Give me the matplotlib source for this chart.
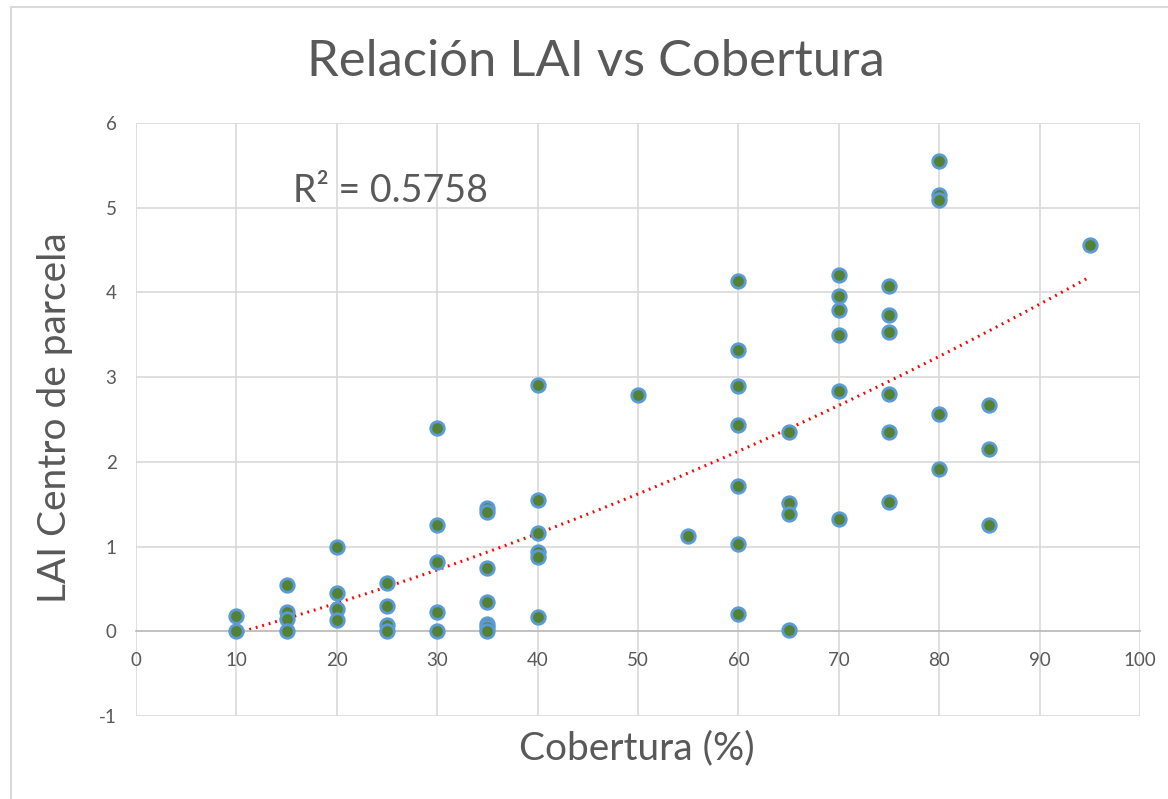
import numpy as np
import matplotlib
matplotlib.use('Agg')
import matplotlib.pyplot as plt
from matplotlib.patches import Rectangle

plt.rcParams['font.family'] = ['Lato', 'DejaVu Sans']
plt.rcParams['axes.unicode_minus'] = False

# cobertura (%) and LAI
cobertura = [10, 10,
             15, 15, 15, 15,
             20, 20, 20, 20,
             25, 25, 25, 25,
             30, 30, 30, 30, 30,
             35, 35, 35, 35, 35, 35, 35,
             40, 40, 40, 40, 40, 40,
             50, 55,
             60, 60, 60, 60, 60, 60, 60,
             65, 65, 65, 65,
             70, 70, 70, 70, 70, 70,
             75, 75, 75, 75, 75, 75,
             80, 80, 80, 80, 80,
             85, 85, 85,
             95]
lai = [0.18, 0.0,
       0.55, 0.23, 0.15, 0.0,
       1.0, 0.45, 0.26, 0.13,
       0.57, 0.30, 0.07, 0.0,
       2.40, 1.26, 0.82, 0.23, 0.0,
       1.46, 1.41, 0.75, 0.35, 0.09, 0.05, 0.0,
       2.91, 1.55, 1.16, 0.94, 0.88, 0.17,
       2.79, 1.12,
       4.13, 3.32, 2.90, 2.43, 1.71, 1.03, 0.20,
       2.35, 1.52, 1.39, 0.01,
       4.20, 3.96, 3.79, 3.50, 2.84, 1.33,
       4.08, 3.73, 3.53, 2.80, 2.35, 1.53,
       5.55, 5.15, 5.09, 2.56, 1.92,
       2.67, 2.15, 1.25,
       4.56]
r2_text = 'R² = 0.5758'

x = np.array(cobertura, dtype=float)
y = np.array(lai)

fig = plt.figure(figsize=(11.68, 7.99), dpi=100)
ax = fig.add_axes([136/1168, 1-716/799, (1140-136)/1168, (716-123)/799])

fig.patches.append(Rectangle((11/1168, -0.01), 1.02, 1-7/799+0.01, transform=fig.transFigure,
                             fill=False, edgecolor='#d9d9d9', lw=1.5))

txt = '#595959'
ax.set_xlim(0, 100)
ax.set_ylim(-1, 6)
ax.set_xticks(range(0, 101, 10))
ax.set_yticks(range(-1, 7))
ax.grid(True, color='#d9d9d9', lw=1.2)
ax.set_axisbelow(True)
for s in ['top', 'right', 'left']:
    ax.spines[s].set_visible(False)
ax.spines['bottom'].set_position(('data', 0))
ax.spines['bottom'].set_color('#bfbfbf')
ax.spines['bottom'].set_linewidth(1.3)
ax.tick_params(length=0, labelsize=13.5, colors=txt, pad=15)
ax.tick_params(axis='y', pad=14)

# poly trend line, order 2
c = np.polyfit(x, y, 2)
xt = np.linspace(x.min(), x.max(), 200)
ax.plot(xt, np.polyval(c, xt), color='#ff0000', lw=2.2, ls=(0, (0.6, 1.6)), zorder=2)

ax.scatter(x, y, s=95, color='#548235', edgecolors='#5b9bd5', linewidths=2, zorder=3)

ax.text(15.6, 5.2, r2_text, fontsize=27, color=txt, ha='left', va='center')

fig.text(596/1168, 1-62/799, 'Relación LAI vs Cobertura', fontsize=36.5, color=txt, ha='center', va='center')
fig.text(637/1168, 1-748/799, 'Cobertura (%)', fontsize=28, color=txt, ha='center', va='center')
fig.text(55/1168, 1-418/799, 'LAI Centro de parcela', fontsize=28, color=txt, ha='center', va='center',
         rotation=90)

fig.savefig('out.png', dpi=100)
